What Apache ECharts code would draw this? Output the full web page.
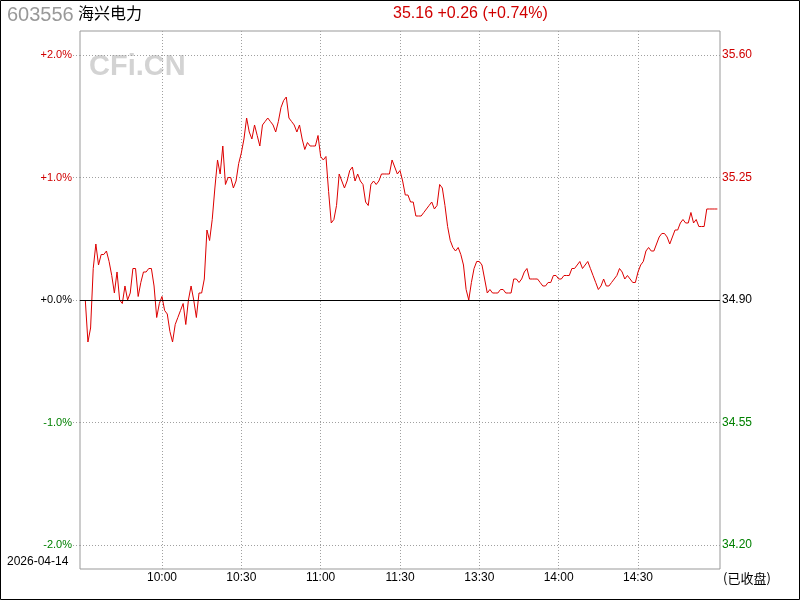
<!DOCTYPE html>
<html>
<head>
<meta charset="utf-8">
<script src="https://cdn.jsdelivr.net/npm/echarts@6/dist/echarts.min.js"></script>
<style>
  html, body { margin: 0; padding: 0; background: #fff; }
  #chart { width: 800px; height: 600px; }
</style>
</head>
<body>
<div id="chart"></div>
<script>
// 昨收 + 每格价差
const basePrice = 34.90;
const priceStep = 0.35;

// 9:31 - 15:00 每分钟价格
const priceData = [
  34.90, 34.78, 34.82, 34.99, 35.06, 35.00, 35.03, 35.03, 35.04, 35.01,
  34.97, 34.92, 34.98, 34.90, 34.89, 34.94, 34.90, 34.92, 34.99, 34.99,
  34.91, 34.95, 34.98, 34.98, 34.99, 34.99, 34.94, 34.85, 34.89, 34.91,
  34.87, 34.86, 34.81, 34.78, 34.83, 34.85, 34.87, 34.89, 34.83, 34.90,
  34.94, 34.90, 34.85, 34.92, 34.92, 34.96, 35.10, 35.07, 35.13, 35.22,
  35.30, 35.26, 35.34, 35.23, 35.25, 35.25, 35.22, 35.24, 35.29, 35.32,
  35.36, 35.42, 35.38, 35.36, 35.40, 35.37, 35.34, 35.40, 35.41, 35.42,
  35.41, 35.40, 35.38, 35.41, 35.45, 35.47, 35.48, 35.42, 35.41, 35.40,
  35.38, 35.40, 35.36, 35.33, 35.35, 35.34, 35.34, 35.34, 35.37, 35.31,
  35.30, 35.31, 35.21, 35.12, 35.13, 35.17, 35.26, 35.24, 35.22, 35.24,
  35.27, 35.28, 35.24, 35.26, 35.24, 35.23, 35.18, 35.17, 35.23, 35.24,
  35.23, 35.24, 35.26, 35.26, 35.26, 35.26, 35.30, 35.28, 35.26, 35.27,
  35.24, 35.20, 35.20, 35.18, 35.18, 35.14, 35.14, 35.14, 35.15, 35.16,
  35.17, 35.18, 35.16, 35.17, 35.23, 35.22, 35.17, 35.11, 35.07, 35.05,
  35.04, 35.05, 35.03, 35.00, 34.93, 34.90, 34.95, 34.99, 35.01, 35.01,
  35.00, 34.96, 34.92, 34.93, 34.92, 34.92, 34.92, 34.93, 34.93, 34.92,
  34.92, 34.92, 34.96, 34.96, 34.95, 34.96, 34.98, 34.99, 34.96, 34.96,
  34.96, 34.96, 34.95, 34.94, 34.94, 34.95, 34.95, 34.97, 34.97, 34.96,
  34.96, 34.97, 34.97, 34.97, 34.99, 34.99, 35.00, 35.01, 34.99, 35.00,
  35.01, 34.99, 34.97, 34.95, 34.93, 34.94, 34.96, 34.94, 34.94, 34.95,
  34.96, 34.97, 34.99, 34.98, 34.96, 34.97, 34.96, 34.95, 34.95, 34.98,
  35.00, 35.01, 35.04, 35.05, 35.04, 35.04, 35.06, 35.08, 35.09, 35.09,
  35.08, 35.06, 35.08, 35.10, 35.10, 35.12, 35.13, 35.12, 35.12, 35.15,
  35.12, 35.13, 35.11, 35.11, 35.11, 35.16, 35.16, 35.16, 35.16, 35.16
];

// 显示的时间刻度
const shownTimes = ['10:00', '10:30', '11:00', '11:30', '13:30', '14:00', '14:30'];
const yTicks = [-2, -1, 0, 1, 2];

// 时间轴: 9:30-11:30, 13:01-15:00, 两头各留一格
const times = [];
function pushRange(h0, m0, h1, m1) {
  for (let t = h0 * 60 + m0; t <= h1 * 60 + m1; t++) {
    const h = Math.floor(t / 60), m = t % 60;
    times.push((h < 10 ? '0' : '') + h + ':' + (m < 10 ? '0' : '') + m);
  }
}
pushRange(9, 30, 11, 30);
pushRange(13, 1, 15, 0);
const xCats = [''].concat(times, ['']);

const lineData = ['-', '-'].concat(priceData.map(p => +((p - basePrice) / priceStep).toFixed(4)));

const RED = '#d00000';
const GREEN = '#008000';
const GRID_GRAY = '#a0a0a0';

function labelColor(v) {
  v = Number(v);
  return v > 0 ? RED : (v < 0 ? GREEN : '#000');
}
function isShown(index, value) {
  return shownTimes.indexOf(value) >= 0;
}

const chart = echarts.init(document.getElementById('chart'), null, { renderer: 'canvas' });

const option = {
  animation: false,
  backgroundColor: '#fff',
  grid: [
    // 数据区 (+2% ~ -2%)
    { left: 80, right: 80, top: 55, bottom: 55 },
    // 外框 + 时间轴
    { left: 80, right: 80, top: 31, bottom: 31, show: true, borderColor: '#999', borderWidth: 1, backgroundColor: 'transparent' }
  ],
  xAxis: [
    { gridIndex: 0, type: 'category', data: xCats, boundaryGap: false, show: false },
    {
      gridIndex: 1,
      type: 'category',
      data: xCats,
      boundaryGap: false,
      axisLine: { show: false },
      axisTick: { show: false },
      axisLabel: {
        interval: isShown,
        color: '#000',
        fontFamily: 'Liberation Sans',
        fontSize: 12,
        margin: 3
      },
      splitLine: {
        show: true,
        interval: isShown,
        lineStyle: { color: GRID_GRAY, type: [1, 2], width: 1 }
      }
    }
  ],
  yAxis: [
    {
      gridIndex: 0,
      type: 'value',
      min: -2,
      max: 2,
      interval: 1,
      axisLine: { show: false },
      axisTick: { show: true, length: 7, lineStyle: { color: GRID_GRAY, type: [1, 2] } },
      axisLabel: {
        margin: 8,
        fontFamily: 'Liberation Sans',
        fontSize: 11,
        color: labelColor,
        formatter: v => (v >= 0 ? '+' : '') + v.toFixed(1) + '%'
      },
      splitLine: { show: true, lineStyle: { color: GRID_GRAY, type: [1, 2], width: 1 } }
    },
    {
      gridIndex: 0,
      type: 'value',
      position: 'right',
      min: -2,
      max: 2,
      interval: 1,
      axisLine: { show: false },
      axisTick: { show: false },
      axisLabel: {
        margin: 2,
        fontFamily: 'Liberation Sans',
        fontSize: 12,
        color: labelColor,
        formatter: v => (basePrice + v * priceStep).toFixed(2)
      },
      splitLine: { show: false }
    },
    { gridIndex: 1, type: 'value', min: 0, max: 1, show: false }
  ],
  title: [
    { text: '603556', left: 7, top: 5, padding: 0, textStyle: { color: '#999', fontFamily: 'Liberation Sans', fontSize: 20, fontWeight: 'normal' } },
    { text: '海兴电力', left: 78, top: 5, padding: 0, textStyle: { color: '#000', fontFamily: 'Noto Sans CJK SC', fontSize: 16, fontWeight: 'normal' } },
    { text: '35.16 +0.26 (+0.74%)', left: 393, top: 6, padding: 0, textStyle: { color: RED, fontFamily: 'Liberation Sans', fontSize: 16, fontWeight: 'normal' } },
    { text: '2026-04-14', left: 7, top: 556, padding: 0, textStyle: { color: '#000', fontFamily: 'Liberation Sans', fontSize: 12, fontWeight: 'normal' } },
    { text: '(已收盘)', left: 723, top: 572, padding: 0, textStyle: { color: '#000', fontFamily: 'Noto Sans CJK SC', fontSize: 13, fontWeight: 'normal' } }
  ],
  graphic: [
    {
      type: 'text',
      left: 89,
      top: 52,
      z: -1,
      style: { text: 'CFi.CN', fill: '#d3d3d3', font: 'bold 29px "Liberation Sans"' }
    },
    {
      type: 'rect',
      shape: { x: 0.5, y: 0.5, width: 799, height: 599 },
      style: { fill: 'none', stroke: '#000', lineWidth: 1 },
      silent: true
    }
  ],
  series: [
    {
      type: 'line',
      xAxisIndex: 0,
      yAxisIndex: 0,
      data: [],
      z: 1,
      markLine: {
        silent: true,
        symbol: 'none',
        label: { show: false },
        lineStyle: { color: '#000', type: 'solid', width: 1 },
        data: [{ yAxis: 0 }]
      }
    },
    {
      type: 'line',
      xAxisIndex: 0,
      yAxisIndex: 0,
      data: lineData,
      z: 3,
      symbol: 'none',
      showSymbol: false,
      connectNulls: false,
      lineStyle: { color: '#dd0000', width: 1 }
    }
  ]
};

chart.setOption(option);
</script>
</body>
</html>
